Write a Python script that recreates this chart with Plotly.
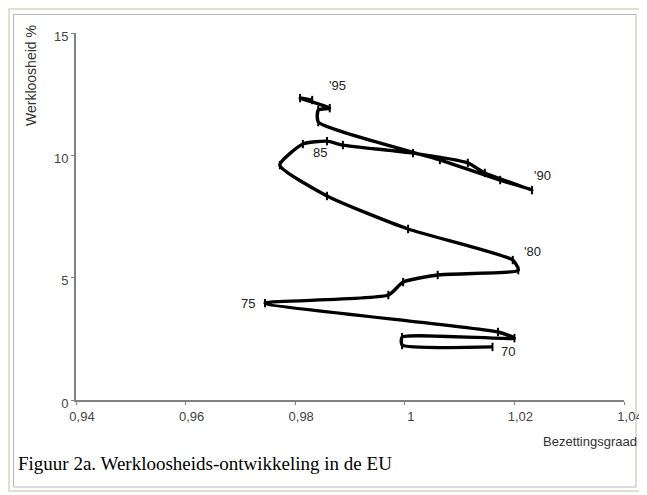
import plotly.graph_objects as go

# EU: bezettingsgraad vs werkloosheid, 1970-1997
jaren = list(range(1970, 1998))
bezetting = [1.016, 0.9995, 0.9995, 1.020, 1.017, 0.9745, 0.997, 0.9997, 1.006, 1.0207,
             1.0197, 1.0006, 0.9858, 0.9772, 0.9814, 0.9858, 0.9887, 1.0015, 1.0115, 1.0146,
             1.0232, 1.0174, 1.0064, 0.9842, 0.9842, 0.9863, 0.9809, 0.9831]
werkloosheid = [2.17, 2.25, 2.57, 2.53, 2.78, 3.96, 4.29, 4.82, 5.11, 5.31,
                5.72, 6.99, 8.34, 9.60, 10.46, 10.58, 10.42, 10.09, 9.69, 9.28,
                8.58, 8.99, 9.81, 11.36, 11.85, 11.93, 12.34, 12.26]

x_ticks = [0.94, 0.96, 0.98, 1.0, 1.02, 1.04]
x_ticktext = ["0,94", "0,96", "0,98", "1", "1,02", "1,04"]
y_ticks = [0, 5, 10, 15]

jaar_labels = {1995: "'95", 1985: "85", 1990: "'90", 1980: "'80", 1975: "75", 1970: "70"}
label_shift = {1995: (8, 23), 1985: (-7, -11), 1990: (11, 15), 1980: (20, 9),
               1975: (-17, 0), 1970: (16, -5)}

# the page body has an 8px margin, so the figure starts at (8, 8)
OFF = 8
W, H = 647 - OFF, 495 - OFF
# plot area in page pixels
L, R, T, B = 76, 624, 33, 400


def px(x):
    return (x - L) / (R - L)


def py(y):
    return (B - y) / (B - T)


fig = go.Figure()

fig.add_trace(go.Scatter(
    x=bezetting,
    y=werkloosheid,
    mode="lines+markers",
    line=dict(color="black", width=3.4, shape="spline", smoothing=0.55),
    marker=dict(symbol="line-ns-open", size=6, line=dict(color="black", width=2)),
    showlegend=False,
    hoverinfo="skip"
))

annotations = []
for jaar, tekst in jaar_labels.items():
    i = jaren.index(jaar)
    dx, dy = label_shift[jaar]
    annotations.append(dict(
        x=bezetting[i], y=werkloosheid[i], text=tekst, showarrow=False,
        xshift=dx, yshift=dy, font=dict(family="Liberation Sans", size=13, color="#222")
    ))

annotations.append(dict(
    x=px(639), y=py(441), xref="paper", yref="paper", text="Bezettingsgraad",
    showarrow=False, xanchor="right", yanchor="middle",
    font=dict(family="Liberation Sans", size=13, color="#333")
))
annotations.append(dict(
    x=px(31), y=py(76), xref="paper", yref="paper", text="Werkloosheid %",
    showarrow=False, textangle=-90, xanchor="center", yanchor="middle",
    font=dict(family="Liberation Sans", size=14, color="#333")
))
annotations.append(dict(
    x=px(16), y=py(463), xref="paper", yref="paper",
    text="Figuur 2a. Werkloosheids-ontwikkeling in de EU",
    showarrow=False, xanchor="left", yanchor="middle",
    font=dict(family="Liberation Serif", size=19, color="black")
))

shapes = [
    dict(type="rect", xref="paper", yref="paper", x0=px(9), x1=px(640), y0=py(9), y1=py(491),
         line=dict(color="#e2dfcc", width=2)),
    dict(type="rect", xref="paper", yref="paper", x0=px(13.5), x1=px(636), y0=py(14.5), y1=py(487),
         line=dict(color="#b8b8b0", width=1)),
]

fig.update_layout(
    width=W, height=H,
    margin=dict(l=L - OFF, r=W - (R - OFF), t=T - OFF, b=H - (B - OFF), autoexpand=False),
    paper_bgcolor="white",
    plot_bgcolor="white",
    annotations=annotations,
    shapes=shapes,
    xaxis=dict(
        range=[0.94, 1.04], tickvals=x_ticks, ticktext=x_ticktext, automargin=False,
        showgrid=False, zeroline=False, showline=True, linecolor="#808080", linewidth=2,
        ticks="outside", ticklen=3, tickcolor="#808080", ticklabelshift=6,
        tickfont=dict(family="Liberation Sans", size=13, color="#444")
    ),
    yaxis=dict(
        range=[0, 15], tickvals=y_ticks, automargin=False,
        showgrid=False, zeroline=False, showline=True, linecolor="#808080", linewidth=2,
        ticks="outside", ticklen=3, tickcolor="#808080", ticklabelshift=3,
        tickfont=dict(family="Liberation Sans", size=13, color="#444")
    ),
)

fig.write_html("out.html")
